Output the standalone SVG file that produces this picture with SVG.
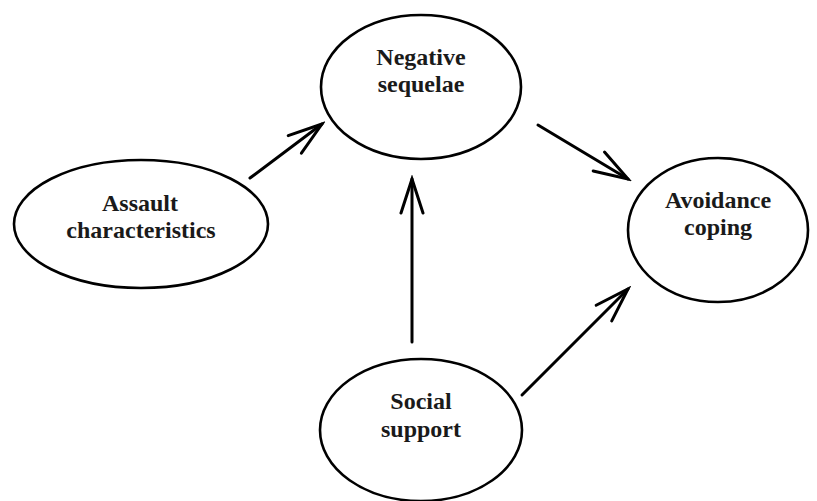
<svg xmlns="http://www.w3.org/2000/svg" width="817" height="501" viewBox="0 0 817 501">
<defs>
<style>
.node ellipse{fill:#fff;stroke:#000;stroke-width:2.6}
.node text{font-family:"Liberation Serif","Times New Roman",serif;font-weight:bold;font-size:24px;fill:#1a1a1a;text-anchor:middle}
#edges line{stroke:#000;stroke-width:3;stroke-linecap:round;marker-end:url(#arr)}
</style>
<marker id="arr" markerUnits="userSpaceOnUse" viewBox="-40 -15 44 30" refX="0" refY="0" markerWidth="44" markerHeight="30" orient="auto">
<path d="M-34,-11 L0,0 L-34,11" fill="none" stroke="#000" stroke-width="3" stroke-linecap="round" stroke-linejoin="miter"/>
</marker>
</defs>
<rect width="817" height="501" fill="#fff"/>
<g id="edges">
<line x1="250" y1="178" x2="322" y2="124"/>
<line x1="538" y1="125" x2="628" y2="179"/>
<line x1="522" y1="395" x2="628" y2="289"/>
<line x1="412" y1="342" x2="412" y2="179"/>
</g>
<g id="negative-sequelae" class="node">
<ellipse cx="421" cy="87" rx="100" ry="72"/>
<text x="421" y="65">Negative</text>
<text x="421" y="92">sequelae</text>
</g>
<g id="assault-characteristics" class="node">
<ellipse cx="141" cy="224" rx="127" ry="64"/>
<text x="140" y="211">Assault</text>
<text x="141" y="238">characteristics</text>
</g>
<g id="avoidance-coping" class="node">
<ellipse cx="718" cy="230" rx="90" ry="72"/>
<text x="718" y="208">Avoidance</text>
<text x="718" y="235">coping</text>
</g>
<g id="social-support" class="node">
<ellipse cx="421" cy="430" rx="101" ry="71"/>
<text x="421" y="409">Social</text>
<text x="421" y="437">support</text>
</g>
</svg>
